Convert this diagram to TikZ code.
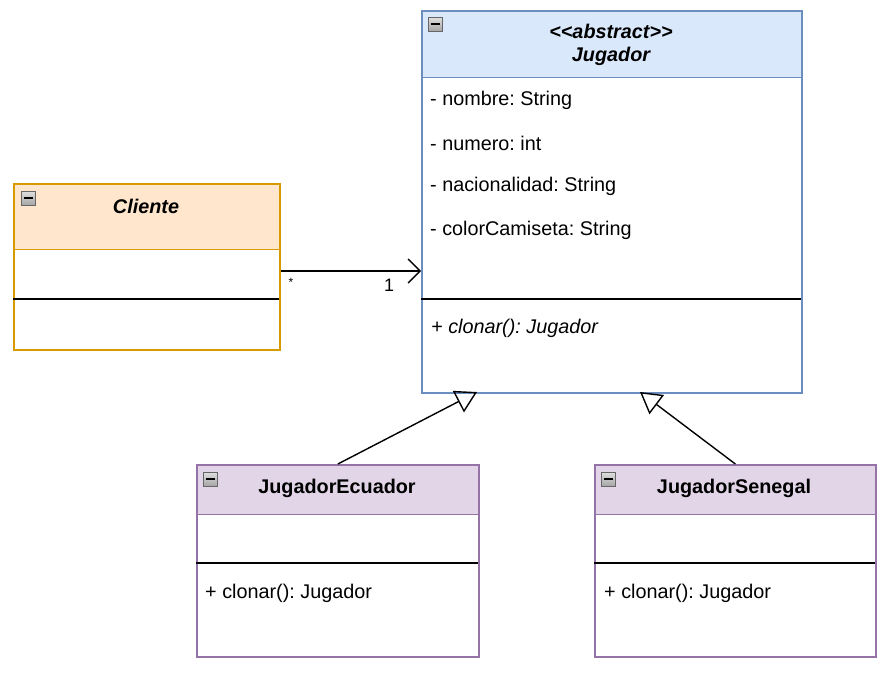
\documentclass[tikz,border=0pt]{standalone}
\usepackage{fontspec}
\setmainfont{Liberation Sans}
\usetikzlibrary{arrows.meta,calc}
\definecolor{bluefill}{HTML}{DAE8FC}
\definecolor{bluedraw}{HTML}{6C8EBF}
\definecolor{orangefill}{HTML}{FFE6CC}
\definecolor{orangedraw}{HTML}{D79B00}
\definecolor{purplefill}{HTML}{E1D5E7}
\definecolor{purpledraw}{HTML}{9673A6}
\tikzset{
  every node/.style={font=\fontsize{19.8}{23}\selectfont\frenchspacing, inner sep=0pt},
  classbox/.style={draw, line width=1.7pt, anchor=north west, inner sep=0pt},
  headbox/.style={anchor=north west, inner sep=0pt, minimum width=#1},
  member/.style={anchor=west},
  sepline/.style={line width=1.5pt, black},
  conn/.style={line width=1.4pt, black},
  minusicon/.pic={
    \shade[top color=gray!25, bottom color=gray!70, draw=gray!80!black, line width=0.8pt] (0,0) rectangle (14,14);
    \draw[line width=2pt, black] (2.5,7) -- (11.5,7);
  }
}
\begin{document}
\begin{tikzpicture}[x=1pt,y=-1pt]
\useasboundingbox (0,0) rectangle (890,672);

% ---------- Jugador ----------
\node[headbox=380pt, minimum height=67pt, fill=bluefill] (jughead) at (421,10) {};
\draw[bluedraw, line width=1.5pt] (jughead.south west) -- (jughead.south east);
\node[classbox, draw=bluedraw, minimum width=380pt, minimum height=382pt] (jug) at (421,10) {};
\draw[sepline] (421,299) -- (801,299);
\pic at (428,17) {minusicon};
\node[align=center, font=\fontsize{19.8}{23}\selectfont\bfseries\itshape] (jugtitle) at (611,45) {{<}{<}abstract{>}{>}\\Jugador};
\node[member] (a1) at (430,100) {- nombre: String};
\node[member] (a2) at (430,143) {- numero: int};
\node[member] (a3) at (430,186) {- nacionalidad: String};
\node[member] (a4) at (430,230) {- colorCamiseta: String};
\node[member, font=\fontsize{19.8}{23}\selectfont\itshape\frenchspacing] (m1) at (431,328) {+ clonar(): Jugador};

% ---------- Cliente ----------
\node[headbox=266pt, minimum height=66pt, fill=orangefill] (clihead) at (13,183) {};
\draw[orangedraw, line width=1.5pt] (clihead.south west) -- (clihead.south east);
\node[classbox, draw=orangedraw, minimum width=266pt, minimum height=166pt] (cli) at (13,183) {};
\draw[sepline] (13,299) -- (279,299);
\pic at (21,191) {minusicon};
\node[font=\fontsize{19.8}{23}\selectfont\bfseries\itshape] (clititle) at (146,206) {Cliente};

% ---------- JugadorEcuador ----------
\node[headbox=282pt, minimum height=50pt, fill=purplefill] (ecuhead) at (196,464) {};
\draw[purpledraw, line width=1.5pt] (ecuhead.south west) -- (ecuhead.south east);
\node[classbox, draw=purpledraw, minimum width=282pt, minimum height=192pt] (ecu) at (196,464) {};
\draw[sepline] (196,563) -- (478,563);
\pic at (203,472) {minusicon};
\node[font=\fontsize{19.8}{23}\selectfont\bfseries] (ecutitle) at (337,488) {JugadorEcuador};
\node[member] (em1) at (205,593) {+ clonar(): Jugador};

% ---------- JugadorSenegal ----------
\node[headbox=281pt, minimum height=50pt, fill=purplefill] (senhead) at (594,464) {};
\draw[purpledraw, line width=1.5pt] (senhead.south west) -- (senhead.south east);
\node[classbox, draw=purpledraw, minimum width=281pt, minimum height=192pt] (sen) at (594,464) {};
\draw[sepline] (594,563) -- (875,563);
\pic at (601,472) {minusicon};
\node[font=\fontsize{19.8}{23}\selectfont\bfseries] (sentitle) at (734,488) {JugadorSenegal};
\node[member] (sm1) at (604,593) {+ clonar(): Jugador};

% ---------- connectors ----------
\coordinate (assocstart) at (cli.east |- 0,271);
\coordinate (assocend) at (jug.west |- 0,271);
\draw[conn, -{Straight Barb[length=12pt, width=24pt, line width=1.4pt]}] (assocstart) -- (assocend);
\node[font=\fontsize{12}{14}\selectfont] (mstar) at (291,282) {*};
\node[font=\fontsize{18}{21}\selectfont] (mone) at (389,285) {1};

\coordinate (ecutip) at (477,392);
\coordinate (sentip) at (640,392);
\draw[conn, -{Triangle[open, length=21pt, width=24pt, line width=1.4pt]}] (ecu.north) -- (ecutip);
\draw[conn, -{Triangle[open, length=21pt, width=24pt, line width=1.4pt]}] (sen.north) -- (sentip);
\end{tikzpicture}
\end{document}
